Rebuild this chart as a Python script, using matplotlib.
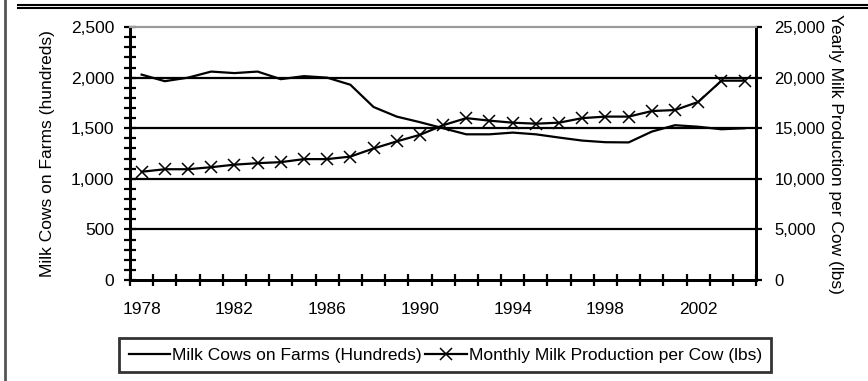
import matplotlib.pyplot as plt
from matplotlib.lines import Line2D
from matplotlib.ticker import FuncFormatter, MultipleLocator

plt.rcParams['font.family'] = ['Liberation Sans', 'DejaVu Sans']

# Dados
anos = list(range(1978, 2005))
vacas = [2030, 1965, 2000, 2060, 2045, 2060, 1985, 2015, 2000, 1930,
         1710, 1615, 1560, 1500, 1440, 1440, 1457, 1440, 1408, 1378,
         1362, 1360, 1467, 1530, 1515, 1490, 1500]
producao = [10700, 10950, 10950, 11150, 11400, 11550, 11650, 11950, 11950, 12200,
            13000, 13700, 14350, 15300, 16000, 15750, 15550, 15450, 15550, 16000,
            16150, 16150, 16700, 16800, 17600, 19700, 19700]
rotulos_x = [1978, 1982, 1986, 1990, 1994, 1998, 2002]

milhar = FuncFormatter(lambda v, p: f'{int(v):,}')
fs = 12.5

fig = plt.figure(figsize=(8.68, 3.81), dpi=100)
ax = fig.add_axes([0.1498, 0.265, 0.7214, 0.664])
ax2 = ax.twinx()

# Linhas de grade
for v in [500, 1000, 1500, 2000]:
    ax.axhline(v, color='black', lw=1.6, zorder=1)

ax.plot(anos, vacas, color='black', lw=1.6, zorder=3,
        label='Milk Cows on Farms (Hundreds)')
ax2.plot(anos, producao, color='black', lw=1.6, marker='x', ms=9, mew=1.1,
         zorder=3, label='Monthly Milk Production per Cow (lbs)')

ax.set_xlim(1977.5, 2004.5)
ax.set_ylim(0, 2500)
ax2.set_ylim(0, 25000)

# Eixo x
ax.set_xticks(rotulos_x)
ax.tick_params(axis='x', which='major', length=0, pad=16, labelsize=fs)
ax.set_xticks([a - 0.5 for a in anos] + [2004.5], minor=True)
ax.tick_params(axis='x', which='minor', direction='inout', length=8, width=1.6)

# Eixo y esquerdo
ax.yaxis.set_major_locator(MultipleLocator(500))
ax.yaxis.set_minor_locator(MultipleLocator(100))
ax.yaxis.set_major_formatter(milhar)
ax.tick_params(axis='y', which='both', direction='inout', length=9, width=1.6,
               labelsize=fs, pad=7)

# Eixo y direito
ax2.yaxis.set_major_locator(MultipleLocator(5000))
ax2.yaxis.set_major_formatter(milhar)
ax2.tick_params(axis='y', direction='out', length=4, width=1.6, labelsize=fs - 0.5, pad=9)

for a in (ax, ax2):
    a.spines['top'].set_color('#9a9a9a')
    a.spines['top'].set_linewidth(1.5)
    a.spines['left'].set_linewidth(2)
    a.spines['right'].set_linewidth(2)
    a.spines['bottom'].set_linewidth(2)

ax.set_ylabel('Milk Cows on Farms (hundreds)', fontsize=fs)
ax2.set_ylabel('Yearly Milk Production per Cow (lbs)', fontsize=fs, rotation=270)
ax.yaxis.set_label_coords(-0.12, 0.5)
ax2.yaxis.set_label_coords(1.139, 0.5)

# Legenda
h1, l1 = ax.get_legend_handles_labels()
h2, l2 = ax2.get_legend_handles_labels()
leg = fig.legend(h1 + h2, l1 + l2, ncol=2, loc='center', bbox_to_anchor=(0.513, 0.068),
                 fontsize=fs, frameon=True, fancybox=False, handlelength=2.4,
                 handletextpad=0.1, columnspacing=0.2, borderpad=0.55)
leg.get_frame().set_edgecolor('black')
leg.get_frame().set_linewidth(2)

# Moldura da figura
fig.add_artist(Line2D([0.021, 1], [0.987, 0.987], color='black', lw=1.5))
fig.add_artist(Line2D([0.021, 1], [0.978, 0.978], color='black', lw=1.5))
fig.add_artist(Line2D([0.006, 0.006], [0, 1], color='#555555', lw=2))

fig.savefig('out.png', dpi=100)
